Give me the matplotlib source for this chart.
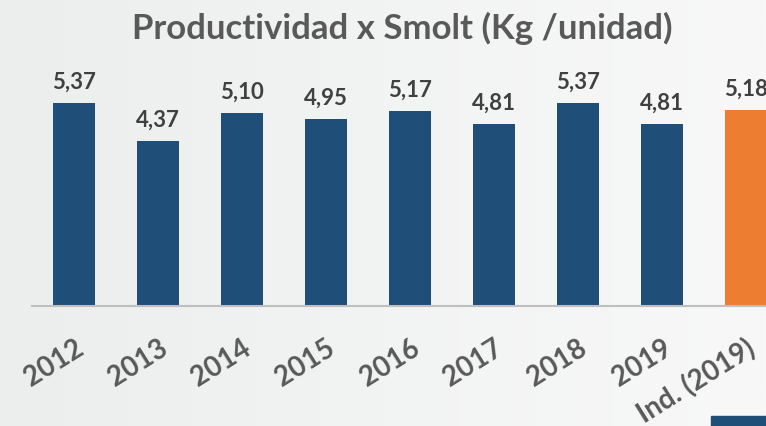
import numpy as np
import matplotlib.pyplot as plt
from matplotlib.colors import LinearSegmentedColormap
from matplotlib.patches import Rectangle

# Data
categories = ["2012", "2013", "2014", "2015", "2016", "2017", "2018", "2019", "Ind. (2019)"]
values = [5.37, 4.37, 5.10, 4.95, 5.17, 4.81, 5.37, 4.81, 5.18]
value_labels = ["5,37", "4,37", "5,10", "4,95", "5,17", "4,81", "5,37", "4,81", "5,18"]

blue = "#1F4E79"
orange = "#ED7D31"
colors = [blue] * 8 + [orange]

plt.rcParams["font.family"] = ["Lato", "DejaVu Sans"]

W, H = 766, 427
fig = plt.figure(figsize=(W / 100, H / 100), dpi=100)

# light gray horizontal gradient background
bg = fig.add_axes([0, 0, 1, 1], zorder=-10)
grad = np.linspace(0, 1, 256).reshape(1, -1)
bg.imshow(grad, aspect="auto", extent=[0, 1, 0, 1],
          cmap=LinearSegmentedColormap.from_list("bg", ["#ECEEEE", "#F8F8F8"]))
bg.axis("off")

# plot area: x from 32px to right edge, baseline at y=307px, top at y=60px
left, right = 32, W
base, top = 307, 60
ax = fig.add_axes([left / W, (H - base) / H, (right - left) / W, (base - top) / H])
ax.patch.set_alpha(0)

x = np.arange(len(categories))
ax.bar(x, values, width=0.5, color=colors, zorder=2)
px_per_unit = 37.8
ax.set_ylim(0, (base - top) / px_per_unit)
ax.set_xlim(-0.5, -0.5 + (right - left) / 84)

for xi, v, lab in zip(x, values, value_labels):
    ax.annotate(lab, (xi, v), xytext=(0, 8), textcoords="offset points",
                ha="center", va="bottom", fontsize=16, fontweight="bold",
                color="#404040", annotation_clip=False)

for s in ["top", "right", "left"]:
    ax.spines[s].set_visible(False)
ax.spines["bottom"].set_color("#BFBFBF")
ax.spines["bottom"].set_linewidth(1.5)
ax.set_yticks([])
ax.set_xticks(x)
ax.set_xticklabels(categories, rotation=32, ha="right", rotation_mode="anchor",
                   fontsize=20, fontweight="bold", color="#595959")
ax.tick_params(axis="x", length=0, pad=20)

fig.text(402 / W, 1 - 28 / H, "Productividad x Smolt (Kg /unidad)", ha="center", va="center",
         fontsize=25, fontweight="bold", color="#595959")

# cut-off legend swatch at bottom right
fig.patches.append(Rectangle((711 / W, 0), 60 / W, 10 / H, transform=fig.transFigure,
                             color=blue, zorder=5))

fig.savefig("out.png", dpi=100)
